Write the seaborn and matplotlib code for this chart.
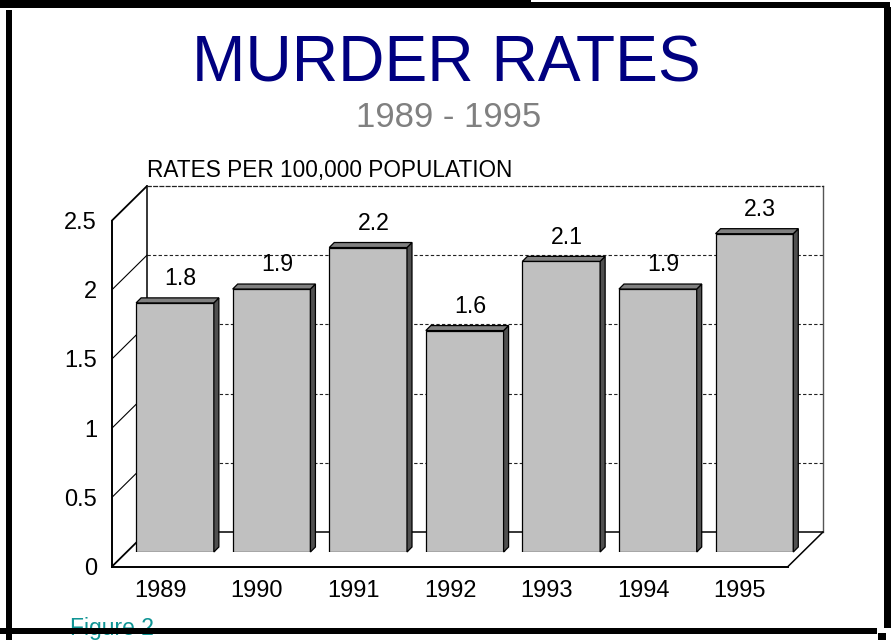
import matplotlib
matplotlib.use('Agg')
import matplotlib.pyplot as plt
import seaborn as sns
import pandas as pd
from matplotlib.patches import Polygon, Rectangle
from matplotlib.lines import Line2D

# ---------------- data ----------------
years = ['1989', '1990', '1991', '1992', '1993', '1994', '1995']
rates = [1.8, 1.9, 2.2, 1.6, 2.1, 1.9, 2.3]
rate_labels = ['1.8', '1.9', '2.2', '1.6', '2.1', '1.9', '2.3']
y_ticks = [0, 0.5, 1, 1.5, 2, 2.5]
y_tick_labels = ['0', '0.5', '1', '1.5', '2', '2.5']

title = 'MURDER RATES'
subtitle = '1989 - 1995'
axis_note = 'RATES PER 100,000 POPULATION'
caption = 'Figure 2'

df = pd.DataFrame({'year': years, 'rate': rates})

# ---------------- style ----------------
sns.set_theme(style='white')
plt.rcParams['font.family'] = ['Liberation Sans', 'DejaVu Sans']

W, H = 892, 640
fig = plt.figure(figsize=(W / 100, H / 100), dpi=100)
fig.patch.set_facecolor('white')


def fx(px):
    return px / W


def fy(py):
    return 1 - py / H


plane_w, plane_h = 676, 346
back_left, back_bottom = 147, 532
bar_left, bar_bottom = 126.7, 552
front_left, front_bottom = 112, 566.5

XLIM = (-0.5, len(years) - 0.5)
YLIM = (0, 2.5)
du_x = (XLIM[1] - XLIM[0]) / plane_w   # data units per pixel
du_y = (YLIM[1] - YLIM[0]) / plane_h


def add_plane(left, bottom):
    a = fig.add_axes([fx(left), fy(bottom), plane_w / W, plane_h / H])
    a.set_xlim(*XLIM)
    a.set_ylim(*YLIM)
    a.patch.set_alpha(0)
    return a


ax_back = add_plane(back_left, back_bottom)
ax_bar = add_plane(bar_left, bar_bottom)
ax_front = add_plane(front_left, front_bottom)

# ---------------- back wall ----------------
ax_back.patch.set_alpha(1)
ax_back.patch.set_facecolor('white')
ax_back.set_xticks([])
ax_back.set_yticks([])
for s in ['left', 'bottom']:
    ax_back.spines[s].set_color('black')
    ax_back.spines[s].set_linewidth(1.1)
ax_back.spines['right'].set_color('#555555')
ax_back.spines['right'].set_linewidth(1.0)
ax_back.spines['top'].set_color('#222222')
ax_back.spines['top'].set_linewidth(0.9)
ax_back.spines['top'].set_linestyle((0, (3, 2)))
for yv in y_ticks[1:-1]:
    ax_back.axhline(yv, color='#222222', lw=0.8, ls=(0, (3, 2)), zorder=1)

# left wall & floor diagonals
ddx, ddy = -35 * du_x, -34.5 * du_y
for yv in y_ticks:
    strong = yv in (y_ticks[0], y_ticks[-1])
    ax_back.add_line(Line2D([XLIM[0] + ddx, XLIM[0]], [yv + ddy, yv],
                            color='black', lw=1.3 if strong else 0.8,
                            clip_on=False, zorder=2))
ax_back.add_line(Line2D([XLIM[1] + ddx, XLIM[1]], [ddy, 0],
                        color='black', lw=1.1, clip_on=False, zorder=2))

# ---------------- bars ----------------
sns.barplot(data=df, x='year', y='rate', ax=ax_bar, color='#c0c0c0',
            saturation=1, width=0.805, edgecolor='black', linewidth=0.9)
ax_bar.set_xlim(*XLIM)
ax_bar.set_ylim(*YLIM)
ax_bar.axis('off')

dx, dy = 5 * du_x, 5 * du_y
for p in ax_bar.patches[:len(years)]:
    x0, w, h = p.get_x(), p.get_width(), p.get_height()
    side = Polygon([(x0 + w, 0), (x0 + w + dx, dy), (x0 + w + dx, h + dy), (x0 + w, h)],
                   closed=True, facecolor='#505050', edgecolor='black', lw=0.9,
                   clip_on=False, zorder=3)
    top = Polygon([(x0, h), (x0 + dx, h + dy), (x0 + w + dx, h + dy), (x0 + w, h)],
                  closed=True, facecolor='#808080', edgecolor='black', lw=0.9,
                  clip_on=False, zorder=3)
    ax_bar.add_patch(side)
    ax_bar.add_patch(top)

for i, (v, lab) in enumerate(zip(rates, rate_labels)):
    ax_bar.text(i + 5.5 * du_x, v + 17.7 * du_y, lab, ha='center', va='baseline',
                fontsize=16.7, color='black', clip_on=False)

# ---------------- front axes (ticks) ----------------
for s in ['top', 'right']:
    ax_front.spines[s].set_visible(False)
for s in ['left', 'bottom']:
    ax_front.spines[s].set_color('black')
    ax_front.spines[s].set_linewidth(1.4)
ax_front.set_yticks(y_ticks)
ax_front.set_yticklabels(y_tick_labels)
ax_front.set_xticks(range(len(years)))
ax_front.set_xticklabels(years)
ax_front.tick_params(axis='y', length=0, labelsize=17, pad=10.8, colors='black')
ax_front.tick_params(axis='x', length=0, labelsize=17, pad=9.6, colors='black')

# ---------------- texts ----------------
fig.text(fx(446), fy(82), title, ha='center', va='baseline', fontsize=46.2, color='#000080')
fig.text(fx(449), fy(127), subtitle, ha='center', va='baseline', fontsize=25, color='#808080')
fig.text(fx(147), fy(176.5), axis_note, ha='left', va='baseline', fontsize=16.3, color='black')
fig.text(fx(70), fy(635), caption, ha='left', va='baseline', fontsize=16.5, color='#109595',
         zorder=5)

# ---------------- outer frame ----------------
def px_rect(x0, y0, x1, y1):
    fig.add_artist(Rectangle((fx(x0), fy(y1)), (x1 - x0) / W, (y1 - y0) / H,
                             transform=fig.transFigure, facecolor='black',
                             edgecolor='none', zorder=20))


px_rect(0, 0, 531, 8)
px_rect(531, 2, 890, 8)
px_rect(6, 10, 12, 640)
px_rect(884, 7, 891, 628)
px_rect(0, 628, 877, 634)
px_rect(878, 633, 886, 640)

fig.savefig('out.png', dpi=100, facecolor='white')
